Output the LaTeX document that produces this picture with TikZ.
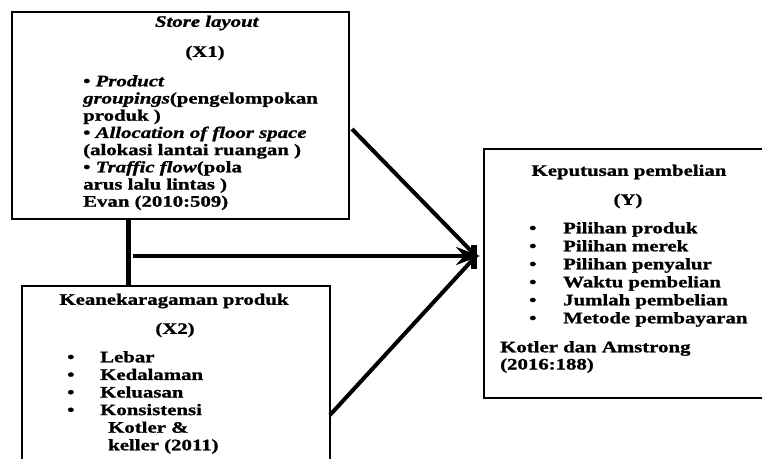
\documentclass[tikz,border=0pt]{standalone}
\usepackage{fontspec}
\setmainfont{Liberation Serif}[FakeStretch=1.3,FakeBold=1.2]
\usetikzlibrary{positioning,arrows.meta}

\tikzset{
  box/.style={draw,line width=2.4pt,inner sep=0pt,outer sep=0pt,anchor=north west},
  head/.style={inner sep=0pt,font=\fontsize{16}{18}\selectfont\bfseries},
  list/.style={inner sep=0pt,align=left,anchor=north west,font=\fontsize{16}{17.2}\selectfont\bfseries},
  link/.style={line width=4pt},
}
\newcommand{\itm}[1]{\makebox[#1][l]{\textbullet}}

\begin{document}
\begin{tikzpicture}[x=1pt,y=-1pt]
  \clip (0,0) rectangle (762,458);
  % the three boxes
  \node[box,minimum width=337pt,minimum height=207pt] (x1) at (12,12) {};
  \node[box,minimum width=308pt,minimum height=176pt] (x2) at (22,286) {};
  \node[box,minimum width=285pt,minimum height=249pt] (y) at (484,149) {};

  % store layout
  \node[head] (x1name) at (207,23) {\textit{Store layout}};
  \node[head] (x1code) at (205,53) {(X1)};
  \node[list] (x1items) at (83,75) {%
    \textbullet{} \textit{Product}\\
    \textit{groupings}(pengelompokan\\
    produk )\\
    \textbullet{} \textit{Allocation of floor space}\\
    (alokasi lantai ruangan )\\
    \textbullet{} \textit{Traffic flow}(pola\\
    arus lalu lintas )\\
    Evan (2010:509)};

  % keanekaragaman produk
  \node[head] (x2name) at (174,301) {Keanekaragaman produk};
  \node[head] (x2code) at (175,330) {(X2)};
  \node[list,font=\fontsize{16}{17.6}\selectfont\bfseries] (x2items) at (67,351) {%
    \itm{33pt}Lebar\\
    \itm{33pt}Kedalaman\\
    \itm{33pt}Keluasan\\
    \itm{33pt}Konsistensi\\
    \hspace*{41pt}Kotler \&\\
    \hspace*{41pt}keller (2011)};

  % keputusan pembelian
  \node[head] (yname) at (629,172) {Keputusan pembelian};
  \node[head] (ycode) at (628,201) {(Y)};
  \node[list,font=\fontsize{16}{18}\selectfont\bfseries] (yitems) at (529,222) {%
    \itm{34pt}Pilihan produk\\
    \itm{34pt}Pilihan merek\\
    \itm{34pt}Pilihan penyalur\\
    \itm{34pt}Waktu pembelian\\
    \itm{34pt}Jumlah pembelian\\
    \itm{34pt}Metode pembayaran};
  \node[list] (ysource) at (500,341) {Kotler dan Amstrong\\(2016:188)};

  % connectors
  \coordinate (hub) at (480,256);
  \coordinate (stem) at (128,0);
  \coordinate (hstart) at (133,256);
  \coordinate (out1) at (352,129);
  \coordinate (out2) at (330,415);
  \draw[link,line width=5pt] (stem |- x1.south) -- (stem |- x2.north);
  \draw[link,-{Stealth[length=24pt,width=18pt,inset=8pt]}] (hstart) -- (hub);
  \draw[link] (out1) -- ([xshift=-4pt]hub);
  \draw[link] (out2) -- ([xshift=-4pt]hub);
  \draw[line width=6pt] ([xshift=-6pt,yshift=-13pt]hub) -- ([xshift=-6pt,yshift=11pt]hub);
\end{tikzpicture}
\end{document}
